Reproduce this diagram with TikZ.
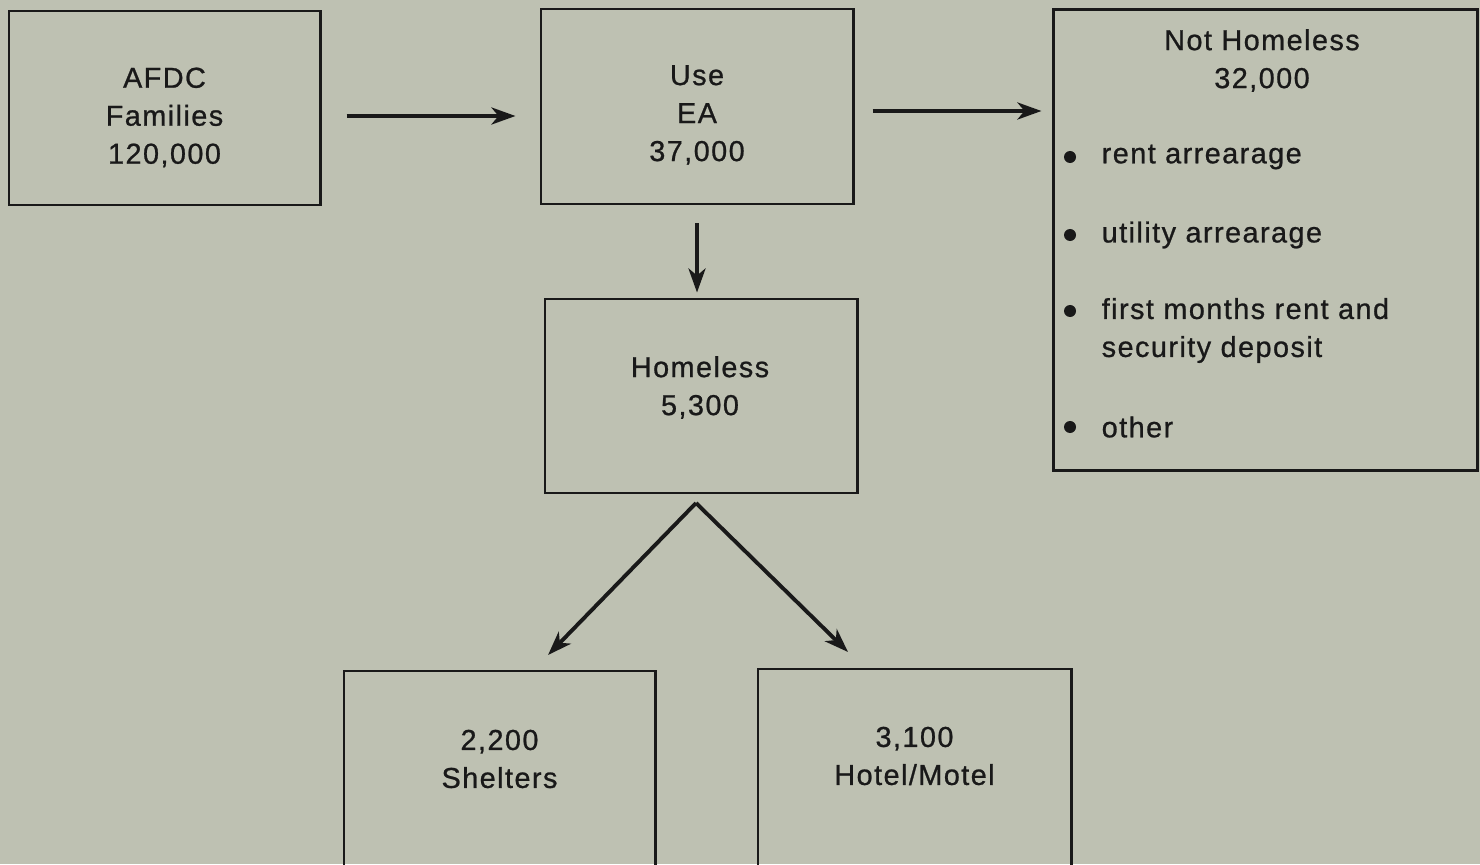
\documentclass[tikz,border=0pt]{standalone}
\usepackage{fontspec}
\setmainfont{Liberation Sans}[LetterSpace=5, FakeBold=0.8]
\usetikzlibrary{arrows.meta,positioning}
\definecolor{paper}{RGB}{190,193,178}
\definecolor{ink}{RGB}{25,25,25}
\tikzset{
  box/.style={draw=ink, line width=0.8pt, minimum width=3.11cm, minimum height=1.94cm, inner sep=0pt},
  lbl/.style={align=center, text=ink, inner sep=0pt, font=\fontsize{8.2}{10.8}\selectfont},
  item/.style={lbl, anchor=west, align=left},
  dot/.style={circle, fill=ink, minimum size=0.12cm, inner sep=0pt},
  arr/.style={draw=ink, line width=1.1pt, -{Stealth[length=0.24cm, width=0.17cm, inset=0.07cm]}},
}
\begin{document}
\begin{tikzpicture}[x=0.01cm, y=-0.01cm]
  \useasboundingbox (0,0) rectangle (1480,864);
  \clip (0,0) rectangle (1480,864);
  \fill[paper] (0,0) rectangle (1480,864);

  % boxes
  \node[box] (afdc) at (164.5,108) {};
  \node[box, minimum width=3.12cm, minimum height=1.95cm] (ea) at (697,106.5) {};
  \node[box, minimum width=4.23cm, minimum height=4.6cm] (nh) at (1265.5,240) {};
  \node[box, minimum width=3.12cm] (home) at (701,396) {};
  \node[box, minimum height=2.3cm] (shel) at (499.5,786) {};
  \node[box, minimum width=3.13cm, minimum height=2.3cm] (hotel) at (914.5,784) {};

  % texts
  \node[lbl] (afdct) at (164.5,117.5) {AFDC\\Families\\120,000};
  \node[lbl] (eat) at (697,115) {Use\\EA\\37,000};
  \node[lbl] (nht) at (1262,60.5) {Not Homeless\\32,000};
  \node[lbl] (homet) at (700,387.5) {Homeless\\5,300};
  \node[lbl] (shelt) at (499.5,759) {2,200\\Shelters};
  \node[lbl] (hotelt) at (914.5,756) {3,100\\Hotel/Motel};

  % list
  \node[dot] (d1) at (1070,157) {};
  \node[dot] (d2) at (1070,235) {};
  \node[dot] (d3) at (1070,311) {};
  \node[dot] (d4) at (1070,427) {};
  \node[item] (i1) at (1101,157) {rent arrearage};
  \node[item] (i2) at (1101,235) {utility arrearage};
  \node[item] (i3) at (1101,330.5) {first months rent and\\security deposit};
  \node[item] (i4) at (1101,427) {other};

  % flow
  \draw[arr, shorten <=0.25cm, shorten >=0.24cm] ([yshift=-0.08cm]afdc.east) -- ([yshift=-0.08cm]afdc.east -| ea.west);
  \draw[arr, shorten <=0.18cm, shorten >=0.11cm] ([yshift=-0.045cm]ea.east) -- ([yshift=-0.045cm]ea.east -| nh.west);
  \draw[arr, shorten <=0.18cm, shorten >=0.05cm] (ea.south) -- (ea.south |- home.north);
  \coordinate (split) at (696,503);
  \coordinate (toshel) at (548,655);
  \coordinate (tohotel) at (848,652);
  \draw[arr] (split) -- (toshel);
  \draw[arr] (split) -- (tohotel);
\end{tikzpicture}
\end{document}
